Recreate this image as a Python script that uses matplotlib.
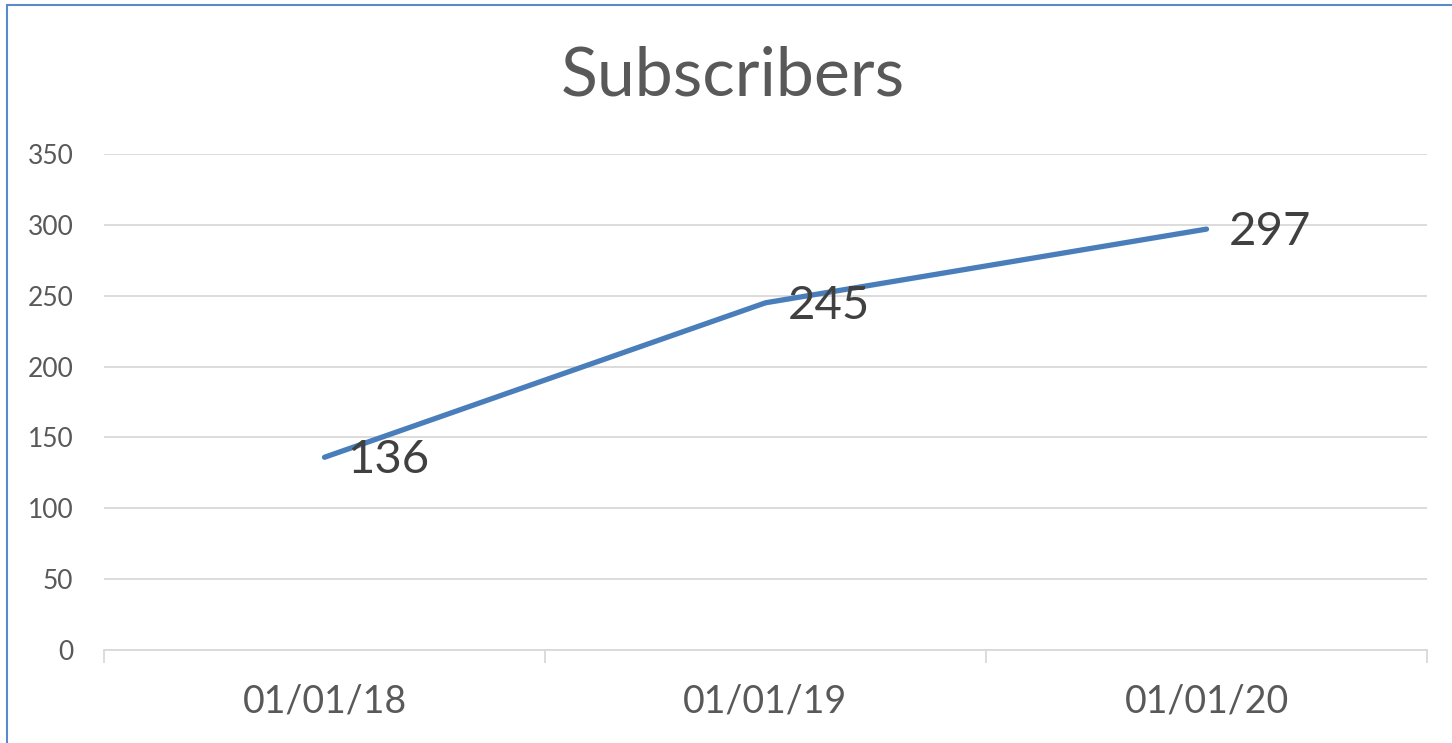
import matplotlib
matplotlib.use("Agg")
import matplotlib.pyplot as plt
from matplotlib.patches import Rectangle

categories = ["01/01/18", "01/01/19", "01/01/20"]
subscribers = [136, 245, 297]
y_ticks = [0, 50, 100, 150, 200, 250, 300, 350]
title = "Subscribers"

plt.rcParams['font.family'] = ['Lato', 'DejaVu Sans']

W, H = 1452, 743
fig = plt.figure(figsize=(W / 100, H / 100), dpi=100)
ax = fig.add_axes([104 / W, 1 - 650 / H, (1427 - 104) / W, (650 - 154) / H])

x = list(range(len(categories)))
ax.plot(x, subscribers, color="#4A7EBB", lw=3.8, solid_capstyle="round", zorder=3)
for xi, v in zip(x, subscribers):
    ax.annotate(str(v), (xi, v), xytext=(16, -2), textcoords="offset points",
                ha="left", va="center", fontsize=34, color="#404040", zorder=4)

ax.set_xlim(-0.5, len(categories) - 0.5)
ax.set_ylim(0, 350)
ax.set_yticks(y_ticks)
ax.set_yticklabels([str(t) for t in y_ticks])
ax.set_xticks(x)
ax.set_xticklabels(categories)
ax.set_xticks([i - 0.5 for i in range(len(categories) + 1)], minor=True)

ax.grid(axis="y", color="#D9D9D9", lw=1.3)
ax.set_axisbelow(True)
for s in ["top", "right", "left"]:
    ax.spines[s].set_visible(False)
ax.spines["bottom"].set_color("#D9D9D9")
ax.spines["bottom"].set_linewidth(1.3)

ax.tick_params(axis="y", length=0, pad=22, labelsize=19, labelcolor="#595959")
ax.tick_params(axis="x", which="major", length=0, pad=24, labelsize=27, labelcolor="#595959")
ax.tick_params(axis="x", which="minor", length=9, width=1.3, color="#D9D9D9")

fig.text(733 / W, 1 - 76 / H, title, ha="center", va="center", fontsize=49, color="#595959")

fig.patches.append(Rectangle((7 / W, -0.1), 1.2, 1 - 5 / H + 0.1, transform=fig.transFigure,
                             fill=False, edgecolor="#5B8AC9", lw=1.5))

fig.savefig("out.png", dpi=100, facecolor="white")
